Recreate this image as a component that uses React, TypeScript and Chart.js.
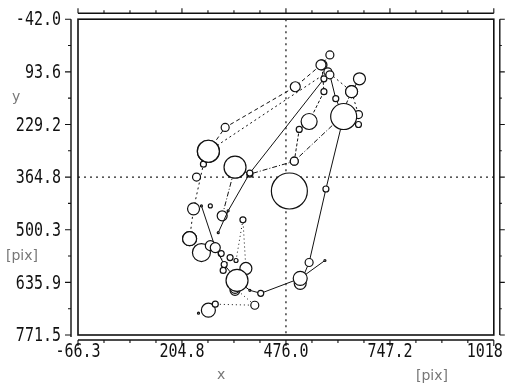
import React, { useEffect, useRef } from 'react';
import { Chart, registerables } from 'chart.js';

Chart.register(...registerables);

// Axis ranges and tick labels
const xMin = -66.3;
const xMax = 1018;
const yMin = -42.0;
const yMax = 771.5;
const xTicks = [-66.3, 204.8, 476.0, 747.2, 1018];
const xTickLabels = ['-66.3', '204.8', '476.0', '747.2', '1018'];
const yTicks = [-42.0, 93.6, 229.2, 364.8, 500.3, 635.9, 771.5];
const yTickLabels = ['-42.0', '93.6', '229.2', '364.8', '500.3', '635.9', '771.5'];
const crossX = 476.0;
const crossY = 364.8;

// Tracks: [x, y, size]
const trackS1 = [
  [255.6, 438.9, 1], [291.7, 546.4, 5], [314.9, 589.9, 3], [348.4, 630.8, 11],
  [381.8, 656.4, 1], [410.2, 664.1, 3], [513.2, 625.6, 7], [577.6, 579.6, 1],
];
const trackS2 = [
  [513.2, 638.5, 6], [536.4, 584.8, 4], [580.2, 395.4, 3], [626.5, 208.7, 13],
  [605.9, 162.7, 3], [590.5, 101.3, 4],
];
const trackS3 = [
  [299.4, 508.0, 1], [325.2, 451.7, 1], [381.8, 354.5, 3], [575.0, 111.5, 3],
];
const trackD1 = [
  [273.7, 298.2, 11], [317.5, 236.8, 4], [500.3, 132.0, 5], [567.3, 75.7, 5], [590.5, 50.1, 4],
];
const trackD2 = [
  [247.9, 715.2, 1], [273.7, 707.5, 7], [291.7, 692.2, 3], [394.7, 694.8, 4], [343.2, 651.3, 5],
];
const trackD3 = [
  [224.7, 523.4, 7], [235.0, 446.6, 6], [260.8, 331.5, 3], [273.7, 298.2, 11],
  [585.3, 93.6, 4], [647.1, 144.7, 6], [665.1, 203.6, 4], [665.1, 229.2, 3],
];
const trackD4 = [
  [309.7, 464.5, 5], [343.2, 339.2, 11], [381.8, 357.1, 3], [497.7, 323.8, 4],
  [616.2, 213.8, 7], [647.1, 144.7, 6], [667.7, 111.5, 6],
];
const trackD5 = [
  [345.8, 579.6, 2], [363.8, 474.8, 3], [371.5, 600.1, 6], [343.2, 656.4, 5],
];
const trackD6 = [
  [497.7, 323.8, 4], [510.6, 242.0, 3], [536.4, 221.5, 8], [575.0, 144.7, 3], [569.9, 75.7, 5],
];
const trackD7 = [
  [224.7, 523.4, 7], [255.6, 559.2, 9], [278.8, 541.3, 5], [307.1, 561.7, 3],
  [312.3, 605.2, 3], [330.3, 572.0, 3],
];
const singles = [
  [484.9, 400.6, 18], [242.8, 364.7, 4], [278.8, 438.9, 2],
];

const LABEL_FONT = "20px 'DejaVu Sans Mono', 'Liberation Mono', monospace";

function makeDs(pts: number[][], dash: number[], show = true) {
  return {
    type: 'scatter' as const,
    data: pts.map(([x, y, r]) => ({ x, y, r })),
    showLine: show,
    borderColor: '#111',
    borderWidth: 1,
    borderDash: dash,
    pointRadius: (ctx: any) => (ctx.raw ? ctx.raw.r : 2),
    pointBackgroundColor: '#fff',
    pointBorderColor: '#111',
    pointBorderWidth: 1.2,
    pointHoverRadius: (ctx: any) => (ctx.raw ? ctx.raw.r : 2),
  };
}

function condensedText(ctx: any, text: string, x: number, y: number, align: 'left' | 'right' | 'center') {
  const sx = 0.75;
  ctx.save();
  ctx.translate(x, y);
  ctx.scale(sx, 1);
  ctx.textAlign = align;
  ctx.textBaseline = 'middle';
  ctx.fillText(text, 0, 0);
  ctx.restore();
}

const framePlugin = {
  id: 'frame',
  beforeDatasetsDraw(chart: any) {
    const { ctx, chartArea, scales } = chart;
    const px = scales.x.getPixelForValue(crossX);
    const py = scales.y.getPixelForValue(crossY);
    ctx.save();
    ctx.strokeStyle = '#222';
    ctx.lineWidth = 1.3;
    ctx.setLineDash([2, 4]);
    ctx.beginPath();
    ctx.moveTo(px, chartArea.top);
    ctx.lineTo(px, chartArea.bottom);
    ctx.moveTo(chartArea.left, py);
    ctx.lineTo(chartArea.right, py);
    ctx.stroke();
    ctx.restore();
  },
  afterDraw(chart: any) {
    const { ctx, chartArea, scales } = chart;
    const { left, right, top, bottom } = chartArea;
    const xs = scales.x;
    const ys = scales.y;
    ctx.save();
    ctx.strokeStyle = '#111';
    ctx.setLineDash([]);
    ctx.lineWidth = 1.6;
    ctx.strokeRect(left, top, right - left, bottom - top);

    ctx.lineWidth = 1.4;
    const lx = left - 7;
    const by = bottom + 5;
    const ty = top - 6;
    const rx = right + 6;
    ctx.beginPath();
    ctx.moveTo(lx, top);
    ctx.lineTo(lx, bottom + 2);
    ctx.moveTo(left, by);
    ctx.lineTo(right, by);
    ctx.moveTo(left, ty);
    ctx.lineTo(right, ty);
    ctx.moveTo(rx, top);
    ctx.lineTo(rx, bottom);
    ctx.stroke();

    ctx.lineWidth = 1.1;
    ctx.beginPath();
    for (let i = 0; i < yTicks.length; i++) {
      const p = ys.getPixelForValue(yTicks[i]);
      ctx.moveTo(lx, p);
      ctx.lineTo(lx - 6, p);
      ctx.moveTo(rx, p);
      ctx.lineTo(rx + 5, p);
      if (i < yTicks.length - 1) {
        const m = ys.getPixelForValue((yTicks[i] + yTicks[i + 1]) / 2);
        ctx.moveTo(lx, m);
        ctx.lineTo(lx - 3, m);
        ctx.moveTo(rx, m);
        ctx.lineTo(rx + 2, m);
      }
    }
    for (let i = 0; i < xTicks.length; i++) {
      const p = xs.getPixelForValue(xTicks[i]);
      ctx.moveTo(p, by);
      ctx.lineTo(p, by + 6);
      ctx.moveTo(p, ty);
      ctx.lineTo(p, ty - 5);
      if (i < xTicks.length - 1) {
        for (let k = 1; k < 4; k++) {
          const m = xs.getPixelForValue(xTicks[i] + ((xTicks[i + 1] - xTicks[i]) * k) / 4);
          ctx.moveTo(m, ty);
          ctx.lineTo(m, ty - 3);
          ctx.moveTo(m, by);
          ctx.lineTo(m, by + 3);
        }
      }
    }
    ctx.stroke();

    // tick labels, placed with the library's scales
    ctx.fillStyle = '#111';
    ctx.font = LABEL_FONT;
    for (let i = 0; i < yTicks.length; i++) {
      const p = ys.getPixelForValue(yTicks[i]);
      condensedText(ctx, yTickLabels[i], 61, p + 1, 'right');
    }
    for (let i = 0; i < xTicks.length; i++) {
      let p = xs.getPixelForValue(xTicks[i]);
      if (i === xTicks.length - 1) p -= 9;
      condensedText(ctx, xTickLabels[i], p, 352, 'center');
    }

    ctx.fillStyle = '#777';
    ctx.font = "14px 'DejaVu Sans', sans-serif";
    ctx.textAlign = 'left';
    ctx.textBaseline = 'middle';
    ctx.fillText('y', 12, 97);
    ctx.fillText('[pix]', 6, 256);
    ctx.fillText('x', 217, 375);
    ctx.fillText('[pix]', 416, 376);
    ctx.restore();
  },
};

export default function App() {
  const ref = useRef<HTMLCanvasElement | null>(null);
  useEffect(() => {
    if (!ref.current) return;
    const chart = new Chart(ref.current, {
      type: 'scatter',
      data: {
        datasets: [
          makeDs(trackS1, []),
          makeDs(trackS2, []),
          makeDs(trackS3, []),
          makeDs(trackD1, [4, 3]),
          makeDs(trackD2, [1, 3]),
          makeDs(trackD3, [2, 3]),
          makeDs(trackD4, [5, 2, 1, 2]),
          makeDs(trackD5, [1, 3]),
          makeDs(trackD6, [3, 2]),
          makeDs(trackD7, [1, 3]),
          makeDs(singles, [], false),
        ] as any,
      },
      options: {
        animation: false,
        responsive: false,
        events: [],
        layout: { padding: { top: 17, right: 14, left: 0, bottom: 0 } },
        plugins: { legend: { display: false }, tooltip: { enabled: false } },
        scales: {
          x: {
            type: 'linear',
            min: xMin,
            max: xMax,
            afterBuildTicks: (s: any) => {
              s.ticks = xTicks.map((v) => ({ value: v }));
            },
            afterFit: (s: any) => {
              s.height = 50;
            },
            ticks: { display: false },
            grid: { display: false },
            border: { display: false },
          },
          y: {
            type: 'linear',
            reverse: true,
            min: yMin,
            max: yMax,
            afterBuildTicks: (s: any) => {
              s.ticks = yTicks.map((v) => ({ value: v }));
            },
            afterFit: (s: any) => {
              s.width = 78;
            },
            ticks: { display: false },
            grid: { display: false },
            border: { display: false },
          },
        },
      } as any,
      plugins: [framePlugin],
    });
    return () => chart.destroy();
  }, []);
  return (
    <canvas
      ref={ref}
      width={513}
      height={385}
      style={{ position: 'fixed', left: 0, top: 0, width: 513, height: 385, background: '#fff' }}
    />
  );
}
